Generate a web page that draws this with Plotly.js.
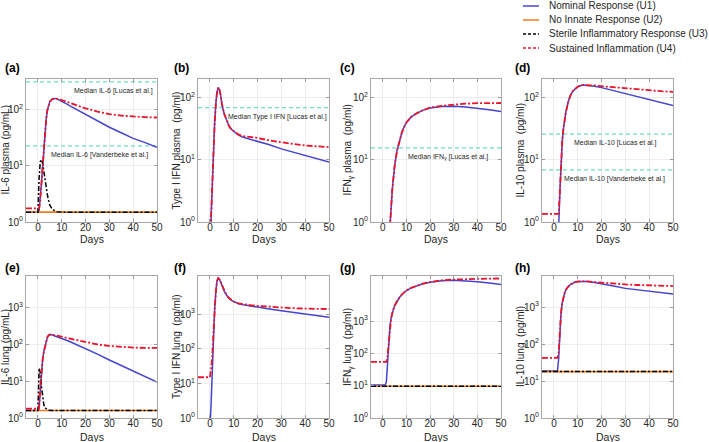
<!DOCTYPE html>
<html><head><meta charset="utf-8">
<script src="https://cdn.plot.ly/plotly-3.0.1.min.js"></script>
<style>html,body{margin:0;padding:0;background:#fff}#chart{width:709px;height:442px}</style>
</head><body><div id="chart"></div>
<script>
// ---------- DATA ----------
const days = [-5,0,0.5,1,1.5,2,2.5,3,3.5,4,4.5,5,6,7,8,9,10,12,14,17,20,25,30,35,40,45,50];
const scenarioNames = ['Nominal Response (U1)','No Innate Response (U2)','Sterile Inflammatory Response (U3)','Sustained Inflammation (U4)'];

// (a) IL-6 plasma
const il6PlasmaU1 = [1.5,1.5,1.6,2.5,5,10,20,40,70,100,125,140,155,160,157,150,143,128,114,97,82,63,49,39,31,26,21.5];
const il6PlasmaU2 = [1.5,1.5,1.5,1.5,1.5,1.5,1.5,1.5,1.5,1.5,1.5,1.5,1.5,1.5,1.5,1.5,1.5,1.5,1.5,1.5,1.5,1.5,1.5,1.5,1.5,1.5,1.5];
const il6PlasmaU3 = [1.5,1.5,6,12,13,11,8,5.5,4,3,2.4,2.0,1.7,1.58,1.53,1.5,1.5,1.5,1.5,1.5,1.5,1.5,1.5,1.5,1.5,1.5,1.5];
const il6PlasmaU4 = [1.75,1.75,1.75,2.5,5,10,20,40,70,100,125,140,155,160,158,154,150,140,130,117,106,93,84,79,76,74,73];
// (b) Type I IFN plasma
const ifn1PlasmaU1 = [0.001,0.05,1.2,5,15,40,80,125,145,135,110,80,55,42,35,31,29,25,23,21.5,20,17.5,15,13.2,11.8,10.4,9.2];
const ifn1PlasmaU4 = [0.001,0.05,1.2,5,15,40,80,125,145,135,110,80,55,42,35,31,29,25.5,24,23.3,22.5,20.5,19,18,17,16.4,16];
// (c) IFN-gamma plasma
const ifngPlasmaU1 = [0.001,0.01,0.02,0.05,0.1,0.25,0.55,1.1,2,3.3,5.2,8,14,20,27,34,40,49,55,63,68,72,73,71,68,64,60];
const ifngPlasmaU4 = [0.001,0.01,0.02,0.05,0.1,0.25,0.55,1.1,2,3.3,5.2,8,14,20,27,34,40,49,55,63,69,74,78,80,81.5,82,82];
// (d) IL-10 plasma
const il10PlasmaU1 = [0.001,0.01,0.02,0.05,0.15,0.8,3,10,20,32,45,58,85,110,128,140,150,160,158,152,145,130,115,103,93,83,75];
const il10PlasmaU4 = [1.35,1.35,1.35,1.35,1.35,1.35,3,10,20,32,45,58,85,110,128,140,150,160,160,157,153,147,140,135,130,127,124];
// (e) IL-6 lung
const il6LungU1 = [1.6,1.6,2,7,20,40,65,95,130,160,180,188,183,174,165,157,150,132,116,95,78,55,38,27,19,13.5,9.5];
const il6LungU2 = [1.6,1.6,1.6,1.6,1.6,1.6,1.6,1.6,1.6,1.6,1.6,1.6,1.6,1.6,1.6,1.6,1.6,1.6,1.6,1.6,1.6,1.6,1.6,1.6,1.6,1.6,1.6];
const il6LungU3 = [1.6,1.6,23,17,7,3.5,2.3,1.9,1.75,1.68,1.63,1.6,1.6,1.6,1.6,1.6,1.6,1.6,1.6,1.6,1.6,1.6,1.6,1.6,1.6,1.6,1.6];
const il6LungU4 = [1.8,1.8,1.8,7,20,40,65,95,130,160,180,188,186,180,174,168,162,152,142,128,116,101,92,86,83,81.5,81];
// (f) Type I IFN lung
const ifn1LungU1 = [0.001,0.5,2.5,25,250,1500,4500,9000,11000,10200,8500,6800,4600,3500,2900,2500,2300,2000,1850,1700,1580,1400,1250,1120,1000,900,810];
const ifn1LungU4 = [15,15,25,60,300,1500,4500,9000,11000,10200,8500,6800,4600,3500,2900,2500,2300,2050,1920,1800,1720,1620,1540,1480,1440,1420,1400];
// (g) IFN-gamma lung
const ifngLungU1 = [10.5,10.5,10.5,10.5,13,60,250,700,1200,1800,2400,3000,4200,5400,6600,7800,8900,10800,12300,14500,16000,18000,18500,18000,16800,15300,13800];
const ifngLungU2 = [9.6,9.6,9.6,9.6,9.6,9.6,9.6,9.6,9.6,9.6,9.6,9.6,9.6,9.6,9.6,9.6,9.6,9.6,9.6,9.6,9.6,9.6,9.6,9.6,9.6,9.6,9.6];
const ifngLungU3 = [9.6,9.6,9.6,9.6,9.6,9.6,9.6,9.6,9.6,9.6,9.6,9.6,9.6,9.6,9.6,9.6,9.6,9.6,9.6,9.6,9.6,9.6,9.6,9.6,9.6,9.6,9.6];
const ifngLungU4 = [55,55,55,55,55,80,250,700,1200,1800,2400,3000,4200,5400,6600,7800,8900,10800,12300,14500,16300,18500,19500,20200,20600,20900,21000];
// (h) IL-10 lung
const il10LungU1 = [18.6,18.6,18.6,18.6,19,40,200,700,1300,1900,2400,2900,3600,4100,4500,4750,4900,5000,4900,4600,4300,3700,3200,2900,2650,2450,2240];
const il10LungU2 = [18,18,18,18,18,18,18,18,18,18,18,18,18,18,18,18,18,18,18,18,18,18,18,18,18,18,18];
const il10LungU3 = [18,18,18,18,18,18,18,18,18,18,18,18,18,18,18,18,18,18,18,18,18,18,18,18,18,18,18];
const il10LungU4 = [42,42,42,42,42,60,220,700,1300,1900,2400,2900,3600,4100,4500,4750,4900,5000,4950,4750,4550,4300,4100,3950,3850,3770,3700];

// clinical medians
const il6PlasmaMedians = [316, 22.7];
const il6PlasmaMedianLabels = ['Median IL-6 [Lucas et al.]','Median IL-6 [Vanderbeke et al.]'];
const ifn1PlasmaMedians = [69];
const ifn1PlasmaMedianLabels = ['Median Type I IFN [Lucas et al.]'];
const ifngPlasmaMedians = [15.6];
const ifngPlasmaMedianLabels = ['Median IFN<sub>γ</sub> [Lucas et al.]'];
const il10PlasmaMedians = [26, 6.9];
const il10PlasmaMedianLabels = ['Median IL-10 [Lucas et al.]','Median IL-10 [Vanderbeke et al.]'];

const panelLabels = ['(a)','(b)','(c)','(d)','(e)','(f)','(g)','(h)'];
const yTitles = ['IL-6 plasma (pg/mL)','Type I IFN plasma\u00a0 (pg/ml)','IFN<sub>γ</sub> plasma\u00a0 (pg/ml)','IL-10 plasma\u00a0 (pg/ml)',
  'IL-6 lung (pg/mL)','Type I IFN lung\u00a0 (pg/ml)','IFN<sub>γ</sub> lung\u00a0 (pg/ml)','IL-10 lung\u00a0 (pg/ml)'];
const xTitle = 'Days';
const xTicks = [0,10,20,30,40,50];
const yTickMaxExp = [2,2,2,2,3,3,3,3];

// ---------- STYLE / LAYOUT ----------
const FONT = 'Liberation Sans, Arial, Helvetica, sans-serif';
const colors = ['#4444cc','#f07d1e','#000000','#e8142c'];
const dashes = ['solid','solid','5px,2px,2px,2px','6px,2px,2px,2px'];
const widths = [1.5,1.6,1.5,1.8];
const medianColor = '#6fdcc3';
const W = 709, H = 442;
const colPx = [[26,157],[198,329],[371,501],[542,673]];
const rowPx = [[79,222],[276,418]];
const yTop = [2.55,2.3,2.3,2.3,3.87,4.1,4.4,3.84];
const medianDayPos = [[31.6,26],[28.4],[27.4],[25.9,25.5]];
const labelPx = [[3,68],[172,68],[338,68],[513,68],[3,268],[172,268],[338,268],[513,268]];
const yTitleX = [5,176,348,520];
const xTitleY = [239.5,437];

const panelSeries = [
  [il6PlasmaU1, il6PlasmaU2, il6PlasmaU3, il6PlasmaU4],
  [ifn1PlasmaU1, null, null, ifn1PlasmaU4],
  [ifngPlasmaU1, null, null, ifngPlasmaU4],
  [il10PlasmaU1, null, null, il10PlasmaU4],
  [il6LungU1, il6LungU2, il6LungU3, il6LungU4],
  [ifn1LungU1, null, null, ifn1LungU4],
  [ifngLungU1, ifngLungU2, ifngLungU3, ifngLungU4],
  [il10LungU1, il10LungU2, il10LungU3, il10LungU4]
];
const panelMedians = [
  [il6PlasmaMedians, il6PlasmaMedianLabels],
  [ifn1PlasmaMedians, ifn1PlasmaMedianLabels],
  [ifngPlasmaMedians, ifngPlasmaMedianLabels],
  [il10PlasmaMedians, il10PlasmaMedianLabels],
  null,null,null,null
];

const traces = [];
const annotations = [];
const shapes = [];
const layout = {
  width: W, height: H,
  margin: {l:0, r:0, t:0, b:0},
  paper_bgcolor: '#ffffff', plot_bgcolor: '#ffffff',
  showlegend: false,
  font: {family: FONT, size: 10, color: '#262626'}
};

for (let i = 0; i < 8; i++) {
  const col = i % 4, row = Math.floor(i / 4);
  const sfx = i === 0 ? '' : String(i + 1);
  const xa = 'x' + sfx, ya = 'y' + sfx;
  const tv = [], tt = [];
  for (let k = 0; k <= yTickMaxExp[i]; k++) { tv.push(Math.pow(10, k)); tt.push('10<sup>' + k + '</sup>'); }
  layout['xaxis' + sfx] = {
    domain: [colPx[col][0] / W, colPx[col][1] / W], anchor: ya,
    range: [-5, 50], tickvals: xTicks, ticks: 'inside', ticklen: 3, tickcolor: '#9a9a9a',
    showline: true, linecolor: '#a8a8a8', linewidth: 1, mirror: 'ticks',
    showgrid: true, gridcolor: '#ececec', zeroline: false,
    tickfont: {size: 10, color: '#262626'}, ticklabelstandoff: -4
  };
  layout['yaxis' + sfx] = {
    domain: [1 - rowPx[row][1] / H, 1 - rowPx[row][0] / H], anchor: xa,
    type: 'log', range: [0, yTop[i]], tickvals: tv, ticktext: tt,
    ticks: 'inside', ticklen: 3, tickcolor: '#9a9a9a',
    showline: true, linecolor: '#a8a8a8', linewidth: 1, mirror: 'ticks',
    showgrid: true, gridcolor: '#ececec', zeroline: false,
    tickfont: {size: 10, color: '#262626'}
  };
  // axis titles as text, placed like the reference
  annotations.push({xref: 'paper', yref: 'paper', x: yTitleX[col] / W,
    y: 1 - (rowPx[row][0] + rowPx[row][1]) / 2 / H, textangle: -90, showarrow: false,
    xanchor: 'center', yanchor: 'middle', text: yTitles[i], font: {size: 10, color: '#262626'}});
  annotations.push({xref: 'paper', yref: 'paper', x: (colPx[col][0] + colPx[col][1]) / 2 / W,
    y: 1 - xTitleY[row] / H, showarrow: false, xanchor: 'center', yanchor: 'middle',
    text: xTitle, font: {size: 10.5, color: '#262626'}});
  // medians
  const md = panelMedians[i];
  if (md) {
    md[0].forEach((v, j) => {
      traces.push({x: [-5, 50], y: [v, v], xaxis: xa, yaxis: ya, mode: 'lines',
        line: {color: medianColor, width: 1.2, dash: '4px,3px'}, hoverinfo: 'skip'});
      annotations.push({xref: xa, yref: ya, x: medianDayPos[i][j], y: Math.log10(v), yshift: -9,
        text: md[1][j], showarrow: false, font: {size: 7, color: '#262626'}, xanchor: 'center', yanchor: 'middle'});
    });
  }
  // scenario curves
  panelSeries[i].forEach((vals, s) => {
    if (!vals) return;
    traces.push({x: days, y: vals, xaxis: xa, yaxis: ya, mode: 'lines', name: scenarioNames[s],
      line: {color: colors[s], width: widths[s], dash: dashes[s]}});
  });
  annotations.push({xref: 'paper', yref: 'paper', x: labelPx[i][0] / W, y: 1 - labelPx[i][1] / H,
    xanchor: 'left', yanchor: 'middle', text: '<b>' + panelLabels[i] + '</b>', showarrow: false,
    font: {size: 12, color: '#000'}});
}

// legend (manual, compact like the reference)
const legendRowsPx = [6, 20, 34, 48];
const legendDash = ['solid','solid','3px,2px','3px,2px'];
scenarioNames.forEach((name, s) => {
  const yp = 1 - legendRowsPx[s] / H;
  shapes.push({type: 'line', xref: 'paper', yref: 'paper', x0: 523 / W, x1: 539 / W, y0: yp, y1: yp,
    line: {color: colors[s], width: 1.5, dash: legendDash[s]}});
  annotations.push({xref: 'paper', yref: 'paper', x: 547 / W, y: yp, xanchor: 'left', yanchor: 'middle',
    text: name, showarrow: false, font: {size: 10, color: '#262626'}});
});

layout.annotations = annotations;
layout.shapes = shapes;
Plotly.newPlot('chart', traces, layout, {staticPlot: true, displayModeBar: false});
</script></body></html>
